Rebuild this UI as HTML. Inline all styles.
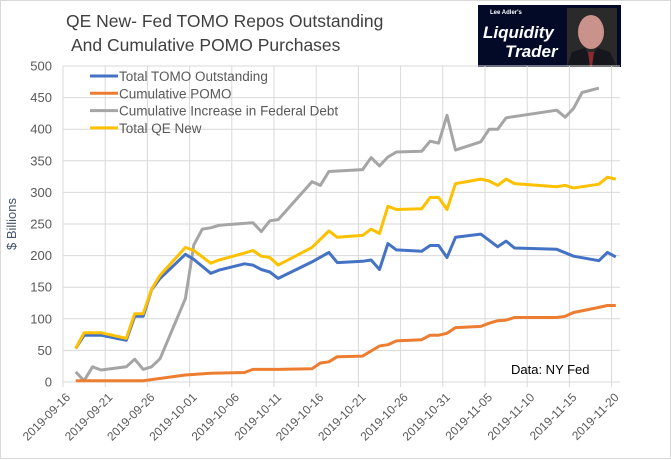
<!DOCTYPE html>
<html><head><meta charset="utf-8"><style>
body{margin:0;background:#fff;}
svg{display:block;font-family:"Liberation Sans",sans-serif;}
</style></head><body>
<svg id="chart" width="671" height="460" viewBox="0 0 671 460">
<rect x="0.5" y="0.5" width="670" height="458" fill="#fff" stroke="#d9d9d9"/>
<text x="66" y="27" font-size="17.5" fill="#404040">QE New- Fed TOMO Repos Outstanding</text>
<text x="71" y="51" font-size="17.5" fill="#404040">And Cumulative POMO Purchases</text>
<g>
<rect x="478" y="5" width="143" height="62" fill="#020a28"/>
<text x="490" y="14" font-size="6" fill="#fff" font-weight="bold">Lee Adler's</text>
<text x="483" y="38" font-size="17" fill="#fff" font-style="italic" font-weight="bold">Liquidity</text>
<text x="505" y="57" font-size="17" fill="#fff" font-style="italic" font-weight="bold">Trader</text>
<rect x="567" y="8" width="50" height="59" fill="#2a2a2a"/>
<ellipse cx="591" cy="32" rx="13" ry="17" fill="#c9928a"/>
<path d="M567 67 L572 52 L585 48 L591 60 L597 48 L610 52 L617 67Z" fill="#15171c"/>
<path d="M588 52 L594 52 L592 67 L590 67Z" fill="#8b2a30"/>
</g>
<g id="grid"></g>
<g id="yticks"></g>
<g id="xticks"></g>
<text transform="translate(16,224) rotate(-90)" text-anchor="middle" font-size="13" fill="#44546a">$ Billions</text>
<g id="series"></g>
<g id="legend"></g>
<text x="511" y="374" font-size="13" fill="#000">Data: NY Fed</text>
</svg>
<script>
const yTicks=[0,50,100,150,200,250,300,350,400,450,500];
const xTickLabels=["2019-09-16","2019-09-21","2019-09-26","2019-10-01","2019-10-06","2019-10-11","2019-10-16","2019-10-21","2019-10-26","2019-10-31","2019-11-05","2019-11-10","2019-11-15","2019-11-20"];
const seriesNames=["Total TOMO Outstanding","Cumulative POMO","Cumulative Increase in Federal Debt","Total QE New"];
const seriesColors=["#4472c4","#ed7d31","#a5a5a5","#ffc000"];
// day offsets from 2019-09-16
const tomoDays=[1,2,4,7,8,9,10,11,14,15,17,18,21,22,23,24,25,29,31,32,35,36,37,38,39,42,43,44,45,46,49,51,52,53,58,60,63,64,65];
const tomoVals=[53,74,74,66,104,104,146,164,202,194,172,177,187,185,178,174,164,190,205,189,191,193,178,219,209,207,216,216,197,229,234,214,223,212,210,199,192,205,198];
const pomoDays=[1,9,14,17,21,22,25,29,30,31,32,35,37,38,39,42,43,44,45,46,49,50,51,52,53,58,59,60,63,64,65];
const pomoVals=[2,2,11,14,15,20,20,21,30,32,40,41,57,59,65,67,74,74,77,86,88,93,97,98,102,102,104,110,118,121,121];
const debtDays=[1,2,3,4,7,8,9,10,11,14,15,16,17,18,22,23,24,25,29,30,31,35,36,37,38,39,42,43,44,45,46,49,50,51,52,58,59,60,61,63];
const debtVals=[16,2,24,19,24,36,20,24,37,132,217,242,244,248,252,238,255,257,317,311,333,336,355,342,356,364,365,381,378,422,367,380,400,400,418,430,419,433,458,465];
const qeDays=[1,2,4,7,8,9,10,11,14,15,17,18,21,22,23,24,25,29,31,32,35,36,37,38,39,42,43,44,45,46,49,50,51,52,53,58,59,60,63,64,65];
const qeVals=[53,78,78,69,108,108,147,169,213,208,188,193,204,208,199,197,185,213,239,229,232,242,235,278,273,274,292,292,273,314,321,318,311,321,314,309,311,307,313,324,321];

const NS="http://www.w3.org/2000/svg";
const X0=63,XD=8.44,Y0=382,YMAX=500,YTOP=66,XR=620;
function xs(d){return X0+XD*(d+0.5);}
function ys(v){return Y0-(v/YMAX)*(Y0-YTOP);}
function mk(t,a,p){const e=document.createElementNS(NS,t);for(const k in a)e.setAttribute(k,a[k]);p.appendChild(e);return e;}
const grid=document.getElementById('grid'),yt=document.getElementById('yticks'),xt=document.getElementById('xticks');
yTicks.forEach(v=>{
 const l=mk('line',{x1:X0,x2:XR,y1:ys(v),y2:ys(v),stroke:'#d9d9d9','stroke-width':1},grid);
 
 
 const t=mk('text',{x:52,y:ys(v)+4.5,'text-anchor':'end','font-size':13,fill:'#595959'},yt);
 t.textContent=v;
 
 
});
xTickLabels.forEach((s,i)=>{
 const x=X0+XD*5*i;
 const l=mk('line',{x1:x,x2:x,y1:YTOP,y2:Y0+5,stroke:'#d9d9d9','stroke-width':1},grid);
 
 
 const t=mk('text',{transform:`translate(${x+8},${Y0+16}) rotate(-45)`,'text-anchor':'end','font-size':12,fill:'#595959'},xt);
 t.textContent=s;
 
 
});
const ser=document.getElementById('series');
const data=[[tomoDays,tomoVals],[pomoDays,pomoVals],[debtDays,debtVals],[qeDays,qeVals]];
const order=[2,0,1,3];
const keys=['tomo','pomo','federal-debt','qe-new'];
order.forEach(i=>{
 const [ds,vs]=data[i];
 const pts=ds.map((d,j)=>xs(d).toFixed(1)+','+ys(vs[j]).toFixed(1)).join(' ');
 const p=mk('polyline',{points:pts,fill:'none',stroke:seriesColors[i],'stroke-width':3,'stroke-linejoin':'round'},ser);
 
 
});
const lg=document.getElementById('legend');
seriesNames.forEach((n,i)=>{
 const y=76+i*17.3;
 const g=mk('g',{},lg);
 
 
 mk('line',{x1:90,x2:118,y1:y,y2:y,stroke:seriesColors[i],'stroke-width':3},g);
 const t=mk('text',{x:119,y:y+5,'font-size':13.5,fill:'#595959'},g);
 t.textContent=n;
});
</script>
</body></html>
